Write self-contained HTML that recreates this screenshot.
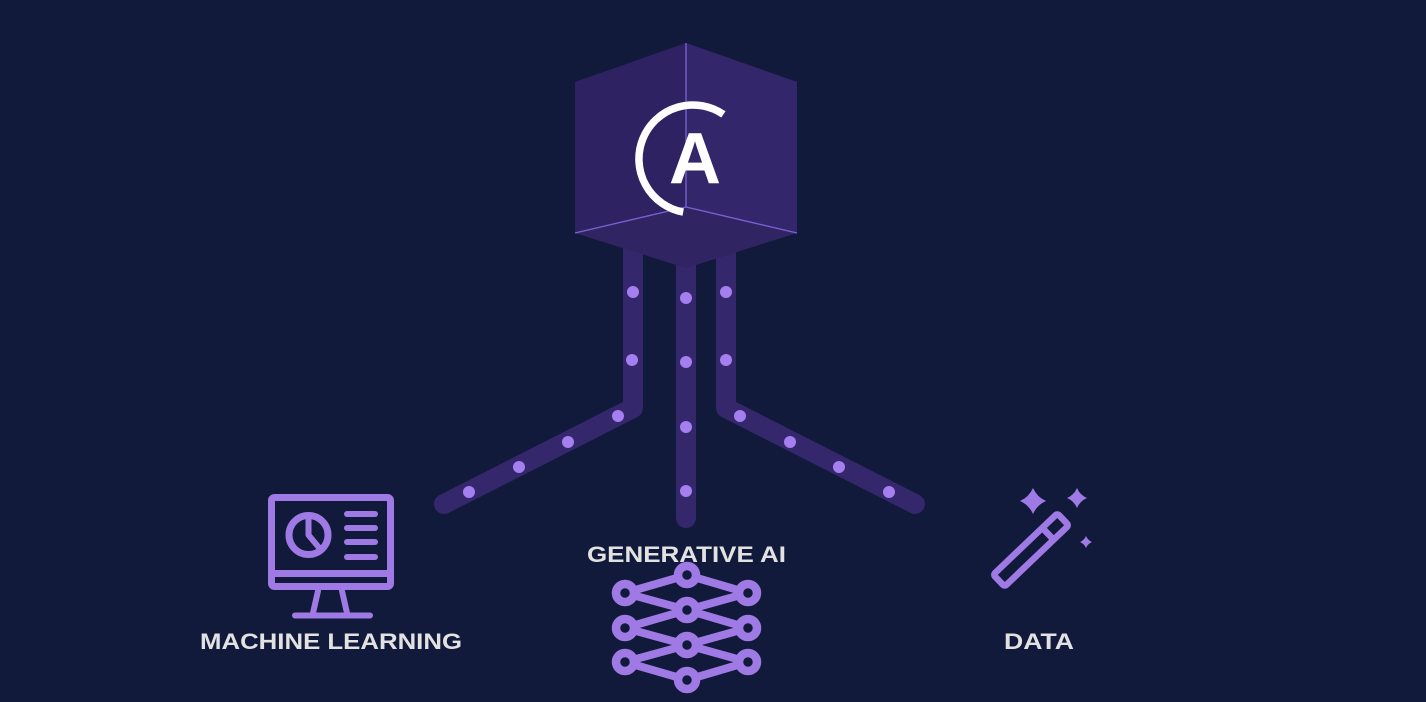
<!DOCTYPE html>
<html><head><meta charset="utf-8"><style>
html,body{margin:0;padding:0;background:#111a3b;}
svg{display:block;}
</style></head><body>
<svg width="1426" height="702" viewBox="0 0 1426 702" xmlns="http://www.w3.org/2000/svg">
<rect width="1426" height="702" fill="#111a3b"/>
<!-- pipes -->
<g fill="none" stroke="#34276b" stroke-width="20" stroke-linejoin="round" stroke-linecap="round">
<path d="M633,240 L633,408 L444,504"/>
<path d="M686,240 L686,518"/>
<path d="M726,240 L726,408 L915,504"/>
</g>
<!-- cube -->
<polygon points="686,43 797,82 797,233 686,268 575,233 575,82" fill="#302461"/>
<polygon points="686,43 575,82 575,233 686,207" fill="#2e2262"/>
<polygon points="686,43 797,82 797,233 686,207" fill="#33266b"/>
<polygon points="575,233 686,207 797,233 686,268" fill="#312462"/>
<g stroke="#7b62d6" stroke-width="1.3" fill="none">
<line x1="686" y1="43" x2="686" y2="207"/>
<line x1="686" y1="207" x2="575" y2="233"/>
<line x1="686" y1="207" x2="797" y2="233"/>
</g>
<!-- logo -->
<path d="M723.4,114.4 A54,54 0 1 0 683.2,212.1" fill="none" stroke="#ffffff" stroke-width="7.5"/>
<text x="695" y="183" text-anchor="middle" font-family="Liberation Sans, sans-serif" font-weight="bold" font-size="72" fill="#ffffff">A</text>
<!-- dots -->
<g fill="#a57ff0">
<circle cx="633" cy="292" r="6"/><circle cx="632" cy="360" r="6"/>
<circle cx="618" cy="416" r="6"/><circle cx="568" cy="442" r="6"/><circle cx="519" cy="467" r="6"/><circle cx="469" cy="492" r="6"/>
<circle cx="686" cy="298" r="6"/><circle cx="686" cy="362" r="6"/><circle cx="686" cy="427" r="6"/><circle cx="686" cy="491" r="6"/>
<circle cx="726" cy="292" r="6"/><circle cx="726" cy="360" r="6"/>
<circle cx="740" cy="416" r="6"/><circle cx="790" cy="442" r="6"/><circle cx="839" cy="467" r="6"/><circle cx="889" cy="492" r="6"/>
</g>
<!-- monitor icon -->
<g fill="none" stroke="#a07ae4" stroke-width="7" stroke-linecap="round" stroke-linejoin="round">
<rect x="271.5" y="497.5" width="119" height="89" rx="3"/>
<line x1="271.5" y1="573.5" x2="390.5" y2="573.5"/>
<line x1="318" y1="591" x2="313" y2="613" stroke-width="6"/>
<line x1="342" y1="591" x2="347" y2="613" stroke-width="6"/>
<line x1="295" y1="615.5" x2="370" y2="615.5" stroke-width="6"/>
<circle cx="308.5" cy="535" r="19.5"/>
<path d="M308.5,517 L308.5,535 L321,550" stroke-width="6"/>
<g stroke-width="6">
<line x1="347" y1="514" x2="375" y2="514"/>
<line x1="347" y1="528" x2="375" y2="528"/>
<line x1="347" y1="542" x2="375" y2="542"/>
<line x1="347" y1="557" x2="375" y2="557"/>
</g>
</g>
<!-- neural net icon -->
<g stroke="#a07ae4" stroke-width="8" fill="none" stroke-linecap="round">
<path d="M625,593 L687,575 L748,593 M625,593 L687,610 L748,593 M625,628 L687,610 L748,628 M625,628 L687,645 L748,628 M625,662 L687,645 L748,662 M625,662 L687,680 L748,662"/>
</g>
<g stroke="#a07ae4" stroke-width="8.5" fill="#111a3b">
<circle cx="625" cy="593" r="9"/><circle cx="625" cy="628" r="9"/><circle cx="625" cy="662" r="9"/>
<circle cx="687" cy="575" r="9"/><circle cx="687" cy="610" r="9"/><circle cx="687" cy="645" r="9"/><circle cx="687" cy="680" r="9"/>
<circle cx="748" cy="593" r="9"/><circle cx="748" cy="628" r="9"/><circle cx="748" cy="662" r="9"/>
</g>
<!-- wand icon -->
<g transform="translate(1031,550) rotate(-43.7)" fill="none" stroke="#a07ae4" stroke-width="6.5" stroke-linejoin="round">
<rect x="-44.3" y="-8.2" width="88.6" height="16.4" rx="2.5"/>
<line x1="23.5" y1="-8.2" x2="23.5" y2="8.2"/>
</g>
<g fill="#a07ae4">
<path d="M1033,488 Q1037,497 1046,501 Q1037,505 1033,514 Q1029,505 1020,501 Q1029,497 1033,488Z"/>
<path d="M1077,488 Q1080,495 1087,498 Q1080,501 1077,508 Q1074,501 1067,498 Q1074,495 1077,488Z"/>
<path d="M1086,536 Q1087.8,540.2 1092,542 Q1087.8,543.8 1086,548 Q1084.2,543.8 1080,542 Q1084.2,540.2 1086,536Z"/>
</g>
<!-- labels -->
<g font-family="Liberation Sans, sans-serif" font-weight="bold" font-size="22" fill="#e2e2e2">
<text x="200" y="649" textLength="262" lengthAdjust="spacingAndGlyphs">MACHINE LEARNING</text>
<text x="587" y="562" textLength="199" lengthAdjust="spacingAndGlyphs">GENERATIVE AI</text>
<text x="1004" y="649" textLength="70" lengthAdjust="spacingAndGlyphs">DATA</text>
</g>
</svg>
</body></html>
